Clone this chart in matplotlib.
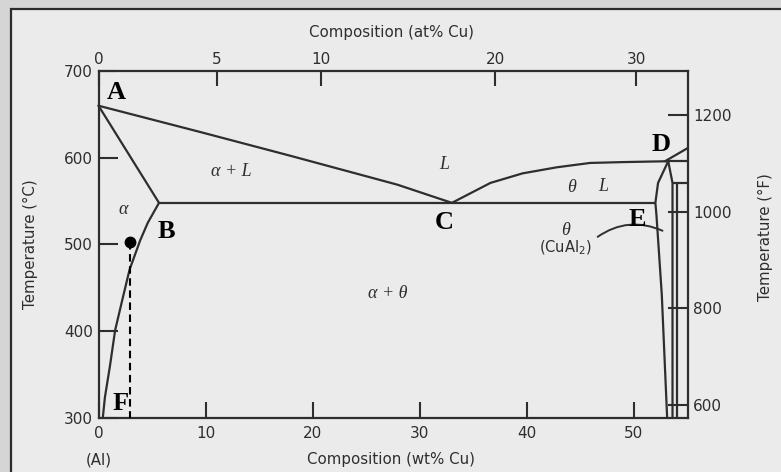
import numpy as np
import matplotlib
matplotlib.use("Agg")
import matplotlib.pyplot as plt
from matplotlib.patches import Rectangle

# ---- phase boundary data (wt% Cu, temperature in degC) ----
liquidus_alpha_wt = [0.0, 9.4, 18.0, 27.9, 33.0]
liquidus_alpha_T = [660, 630, 602, 569, 548]

solidus_wt = [0.0, 5.65]
solidus_T = [660, 548]

solvus_wt = [5.65, 4.6, 3.9, 2.9, 2.2, 1.55, 1.07, 0.6, 0.4]
solvus_T = [548, 525, 505, 471, 435, 401, 360, 324, 300]

eutectic_wt = [5.65, 52.0]
eutectic_T = [548, 548]

liquidus_theta_wt = [33.0, 36.6, 39.6, 42.8, 45.9, 49.0, 53.2]
liquidus_theta_T = [548, 571, 582, 589, 594, 595, 596]

theta_left_wt = [53.2, 52.25, 52.0, 52.1, 52.6, 53.1]
theta_left_T = [596, 571, 548, 534, 442, 300]

theta_right_wt = [53.2, 53.6, 53.6]
theta_right_T = [596, 571, 300]

theta_outer_wt = [54.0, 54.0]
theta_outer_T = [571, 300]

upper_liquidus_wt = [52.9, 55.0]
upper_liquidus_T = [596, 611]

iso_596_wt = [53.2, 55.0]
iso_596_T = [596, 596]
iso_571_wt = [53.6, 55.0]
iso_571_T = [571, 571]

# alloy marker and its vertical guide
alloy_wt = 2.9
alloy_T = 503

# tick values
temp_c_ticks = [300, 400, 500, 600, 700]
wt_ticks = [0, 10, 20, 30, 40, 50]
at_ticks = [0, 5, 10, 20, 30]
temp_f_ticks = [600, 800, 1000, 1200]

M_CU, M_AL = 63.55, 26.98


def wt_to_at(w):
    w = np.asarray(w, dtype=float)
    w = np.clip(w, 1e-9, 100 - 1e-9)
    n_cu = w / M_CU
    n_al = (100 - w) / M_AL
    return 100 * n_cu / (n_cu + n_al)


def at_to_wt(a):
    a = np.asarray(a, dtype=float)
    a = np.clip(a, 1e-9, 100 - 1e-9)
    m_cu = a * M_CU
    m_al = (100 - a) * M_AL
    return 100 * m_cu / (m_cu + m_al)


def c_to_f(c):
    return np.asarray(c, dtype=float) * 9 / 5 + 32


def f_to_c(f):
    return (np.asarray(f, dtype=float) - 32) * 5 / 9


W, H = 781, 472
fig = plt.figure(figsize=(W / 100, H / 100), dpi=100, facecolor="#d5d5d5")

# paper sheet with a dark frame, kept behind everything else
sheet = Rectangle((11 / W, -0.05), 1.1, (H - 9) / H + 0.05,
                  transform=fig.transFigure, facecolor="#ebebeb",
                  edgecolor="#2b2b2b", linewidth=1.6, zorder=-10)
fig.patches.append(sheet)

ax = fig.add_axes([98.5 / W, (H - 418) / H, 589 / W, 347 / H])
ax.set_zorder(1)
ax.set_facecolor("none")
ax.set_xlim(0, 55)
ax.set_ylim(300, 700)

ink = "#2e2e2e"
lw = 1.6
for s in ax.spines.values():
    s.set_color(ink)
    s.set_linewidth(1.6)

tick_font = dict(family="DejaVu Sans", size=11, color=ink)

ax.set_yticks(temp_c_ticks)
ax.set_yticklabels([str(t) for t in temp_c_ticks], fontdict=tick_font)
ax.set_xticks(wt_ticks)
ax.set_xticklabels([str(t) for t in wt_ticks], fontdict=tick_font)
ax.tick_params(axis="y", direction="in", length=13.5, width=1.5, color=ink, pad=4,
               left=True, right=False)
ax.tick_params(axis="x", direction="in", length=11.5, width=1.5, color=ink, pad=6,
               top=False, bottom=True)

# top axis: atomic percent
sec_x = ax.secondary_xaxis("top", functions=(wt_to_at, at_to_wt))
sec_x.set_xticks(at_ticks)
sec_x.set_xticklabels([str(t) for t in at_ticks], fontdict=tick_font)
sec_x.tick_params(direction="in", length=11, width=1.5, color=ink, pad=3)
sec_x.spines["top"].set_visible(False)

# right axis: Fahrenheit
sec_y = ax.secondary_yaxis("right", functions=(c_to_f, f_to_c))
sec_y.set_yticks(temp_f_ticks)
sec_y.set_yticklabels([str(t) for t in temp_f_ticks], fontdict=tick_font)
sec_y.tick_params(direction="in", length=14.5, width=1.5, color=ink, pad=4)
sec_y.spines["right"].set_visible(False)

label_font = dict(family="DejaVu Sans", size=10.8, color=ink)
ax.text(0.497, 1.112, "Composition (at% Cu)", transform=ax.transAxes,
        ha="center", va="center", **label_font)
ax.text(0.497, -0.121, "Composition (wt% Cu)", transform=ax.transAxes,
        ha="center", va="center", **label_font)
ax.text(0.0, -0.121, "(Al)", transform=ax.transAxes,
        ha="center", va="center", **label_font)
ax.text(-0.116, 0.50, "Temperature (°C)", transform=ax.transAxes, rotation=90,
        ha="center", va="center", **label_font)
ax.text(1.132, 0.52, "Temperature (°F)", transform=ax.transAxes, rotation=90,
        ha="center", va="center", **label_font)

# phase boundaries
line_kw = dict(color=ink, linewidth=lw, solid_capstyle="round", clip_on=False)
ax.plot(liquidus_alpha_wt, liquidus_alpha_T, **line_kw)
ax.plot(solidus_wt, solidus_T, **line_kw)
ax.plot(solvus_wt, solvus_T, **line_kw)
ax.plot(eutectic_wt, eutectic_T, **line_kw)
ax.plot(liquidus_theta_wt, liquidus_theta_T, **line_kw)
ax.plot(theta_left_wt, theta_left_T, **line_kw)
ax.plot(theta_right_wt, theta_right_T, **line_kw)
ax.plot(theta_outer_wt, theta_outer_T, **line_kw)
ax.plot(upper_liquidus_wt, upper_liquidus_T, **line_kw)
ax.plot(iso_596_wt, iso_596_T, **line_kw)
ax.plot(iso_571_wt, iso_571_T, **line_kw)

# alloy composition marker
ax.plot([alloy_wt, alloy_wt], [alloy_T, 300], color="black", linewidth=1.5,
        linestyle=(0, (3.6, 2.2)), zorder=4)
ax.plot([alloy_wt], [alloy_T], "o", color="black", markersize=7.5, zorder=5)

# phase field labels
phase_font = dict(family="Liberation Serif", style="italic", size=13, color=ink,
                  ha="center", va="center")
ax.text(12.4, 584, "α + L", **phase_font)
ax.text(2.3, 540, "α", **phase_font)
ax.text(32.3, 592, "L", **phase_font)
ax.text(44.2, 566, "θ", **phase_font)
ax.text(47.1, 567, "L", **phase_font)
ax.text(43.6, 516, "θ", **phase_font)
ax.text(27.0, 443, "α + θ", **phase_font)
ax.text(43.6, 496, "(CuAl$_2$)", family="DejaVu Sans", size=10.5, color=ink,
        ha="center", va="center")
ax.annotate("", xy=(52.9, 514.5), xytext=(46.4, 507.0),
            arrowprops=dict(arrowstyle="-", color=ink, linewidth=1.4,
                            connectionstyle="arc3,rad=-0.3"))

# point letters
pt_font = dict(family="Liberation Serif", weight="bold", size=19, color="black",
               ha="center", va="center")
ax.text(1.63, 675, "A", **pt_font)
ax.text(6.3, 515, "B", **pt_font)
ax.text(32.3, 525, "C", **pt_font)
ax.text(52.5, 615, "D", **pt_font)
ax.text(50.3, 529, "E", **pt_font)
ax.text(2.1, 317, "F", **pt_font)

fig.savefig("out.png", dpi=100, facecolor=fig.get_facecolor())
